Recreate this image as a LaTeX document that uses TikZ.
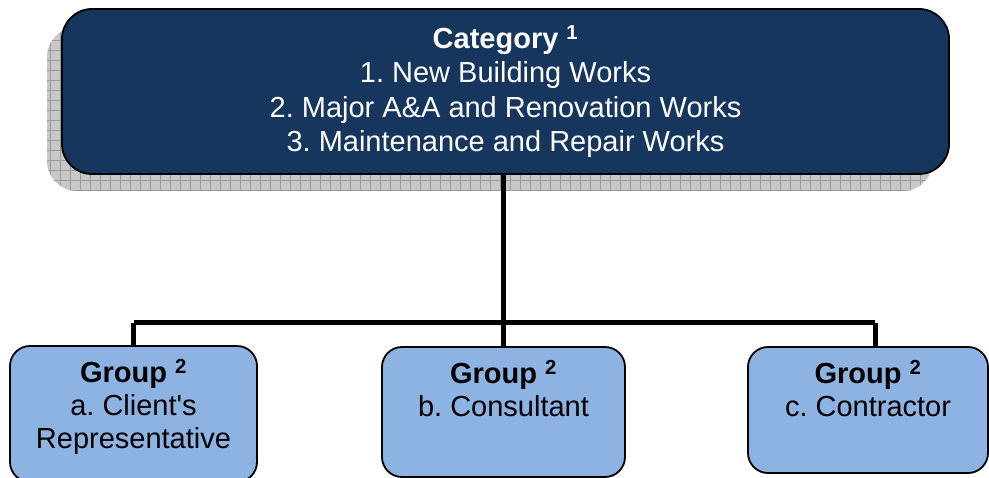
\documentclass[tikz,border=0pt]{standalone}
\usepackage{fontspec}
\newfontfamily\arialfont{Liberation Sans}
\definecolor{navy}{HTML}{17365D}
\definecolor{lightblue}{HTML}{8DB3E2}
\definecolor{shadowfill}{HTML}{C8C8C8}
\definecolor{shadowgrid}{HTML}{9A9A9A}
\frenchspacing
\tikzset{
  topbox/.style={draw=black, line width=1.8pt, fill=navy, rounded corners=30pt,
    minimum width=887pt, minimum height=165pt, inner sep=0pt, text=white, align=center,
    font=\arialfont\fontsize{29}{34.3}\selectfont},
  groupbox/.style={draw=black, line width=1.8pt, fill=lightblue, rounded corners=20pt,
    inner sep=0pt, text=black, font=\arialfont\fontsize{29}{33}\selectfont},
  conn/.style={draw=black, line width=5pt},
}
\newcommand{\grptext}[2]{\parbox[c][#1][t]{230pt}{\centering\vspace*{13pt}#2\par}}
\begin{document}
\begin{tikzpicture}[x=1pt,y=-1pt]
\useasboundingbox (0,0) rectangle (989,478);
% shadow
\begin{scope}
  \path[clip, rounded corners=30pt] (47,27) rectangle (933,191);
  \fill[shadowfill] (40,20) rectangle (940,200);
  \foreach \i in {0,...,90} {\draw[shadowgrid, line width=0.6pt] (40+\i*10,20) -- (40+\i*10,200);}
  \foreach \j in {0,...,18} {\draw[shadowgrid, line width=0.6pt] (40,20+\j*10) -- (940,20+\j*10);}
\end{scope}
% top node
\node[topbox] (top) at (505.5,91.5) {\textbf{Category \textsuperscript{1}}\\1. New Building Works\\2. Major A\&A and Renovation Works\\3. Maintenance and Repair Works};
% group nodes
\node[groupbox, minimum width=247pt, minimum height=136pt] (g1) at (133.5,414)
  {\grptext{136pt}{\textbf{Group \textsuperscript{2}}\\a. Client's\\Representative}};
\node[groupbox, minimum width=243pt, minimum height=130pt] (g2) at (503.5,412)
  {\grptext{130pt}{\textbf{Group \textsuperscript{2}}\\b. Consultant}};
\node[groupbox, minimum width=240pt, minimum height=126pt] (g3) at (868,410)
  {\grptext{126pt}{\textbf{Group \textsuperscript{2}}\\c. Contractor}};
% connectors
\coordinate (bus) at (503,323);
\coordinate (d3) at ([xshift=7pt]g3.north);
\coordinate (d2) at ([xshift=-0.5pt]g2.north);
\coordinate (t0) at ([xshift=-2.5pt]top.south);
\draw[conn] (t0) -- (t0 |- bus);
\draw[conn] (g1.north |- bus) -- (d3 |- bus);
\draw[conn] (g1.north) -- (g1.north |- bus);
\draw[conn] (d2) -- (d2 |- bus);
\draw[conn] (d3) -- (d3 |- bus);
\end{tikzpicture}
\end{document}
